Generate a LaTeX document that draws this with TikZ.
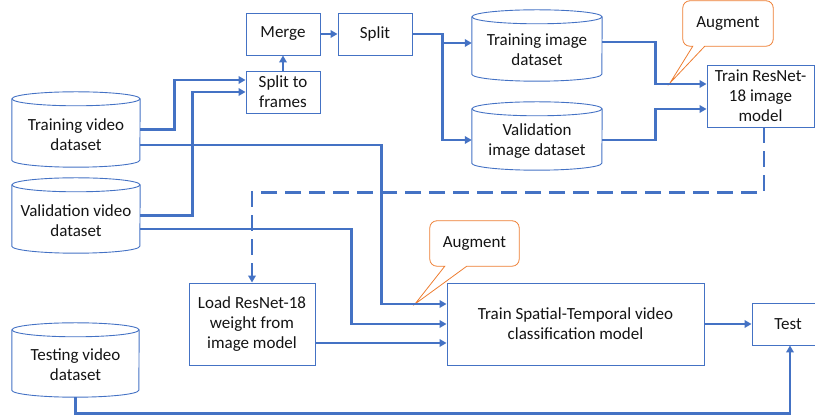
\documentclass[tikz,border=0pt]{standalone}
\usepackage{fontspec}
\setmainfont{Carlito}
\usetikzlibrary{arrows.meta,calc}

\definecolor{flowblue}{RGB}{68,114,196}
\definecolor{calloutorange}{RGB}{237,125,49}
\definecolor{inkgray}{RGB}{20,20,20}
\newcommand\diagfont{\fontsize{17}{20}\selectfont}

\tikzset{
  box/.style={draw=flowblue, line width=0.9pt, fill=white, inner sep=0pt,
              align=center, text=inkgray, font=\diagfont},
  dbarea/.style={inner sep=0pt},
  dbtext/.style={align=center, text=inkgray, font=\diagfont, inner sep=0pt},
  cylline/.style={draw=flowblue, line width=0.9pt},
  conn/.style={draw=flowblue, line width=2.8pt,
               -{Triangle[length=7pt,width=7.5pt]}},
  dconn/.style={conn, dash pattern=on 16pt off 8pt},
  callline/.style={draw=calloutorange, line width=0.8pt},
  calltext/.style={text=inkgray, font=\diagfont, inner sep=0pt},
}

% database cylinder drawn over the extent of an (invisible) area node
\newcommand\dbcyl[2]{%
  \draw[cylline] ([yshift=-7pt]#1.north west) -- ([yshift=7pt]#1.south west)
    arc[start angle=180,end angle=360,x radius=#2,y radius=7pt]
    -- ([yshift=-7pt]#1.north east);
  \draw[cylline] ([yshift=-7pt]#1.north) ellipse[x radius=#2,y radius=7pt];}

% speech-bubble outline around a node; #2,#3 = pointer base offsets, #4 = tip
\newcommand\bubble[4]{%
  \draw[callline] ($(#1.south west)+(#2,0)$) -- ($(#1.south west)+(7,0)$)
    arc[start angle=270,end angle=180,radius=7pt]
    -- ($(#1.north west)+(0,-7)$) arc[start angle=180,end angle=90,radius=7pt]
    -- ($(#1.north east)+(-7,0)$) arc[start angle=90,end angle=0,radius=7pt]
    -- ($(#1.south east)+(0,7)$) arc[start angle=0,end angle=-90,radius=7pt]
    -- ($(#1.south west)+(#3,0)$) -- #4 -- cycle;}

\begin{document}
\begin{tikzpicture}[x=1pt,y=1pt]
\useasboundingbox (0,0) rectangle (815,417);

% ---- datasets ----
\node[dbarea, minimum width=128pt, minimum height=75pt] (tvid) at (76,287.5) {};
\dbcyl{tvid}{64pt}
\node[dbtext] (tvidlabel) at ([yshift=-5pt]tvid.center) {Training video\\dataset};

\node[dbarea, minimum width=128pt, minimum height=75pt] (vvid) at (76,201.5) {};
\dbcyl{vvid}{64pt}
\node[dbtext] (vvidlabel) at ([yshift=-5pt]vvid.center) {Validation video\\dataset};

\node[dbarea, minimum width=127pt, minimum height=74pt] (tevid) at (75.5,57) {};
\dbcyl{tevid}{63.5pt}
\node[dbtext] (tevidlabel) at ([yshift=-5pt]tevid.center) {Testing video\\dataset};

\node[dbarea, minimum width=130pt, minimum height=71pt] (timg) at (537,371.5) {};
\dbcyl{timg}{65pt}
\node[dbtext] (timglabel) at ([yshift=-4pt]timg.center) {Training image\\dataset};

\node[dbarea, minimum width=130pt, minimum height=68pt] (vimg) at (537,281) {};
\dbcyl{vimg}{65pt}
\node[dbtext] (vimglabel) at ([yshift=-5pt]vimg.center) {Validation\\image dataset};

% ---- process boxes ----
\node[box, minimum width=74pt, minimum height=42pt] (merge) at (283,383) {Merge};
\node[box, minimum width=74pt, minimum height=42pt] (split) at (375,383) {Split};
\node[box, minimum width=74pt, minimum height=42pt] (frames) at (283,325) {Split to\\frames};
\node[box, minimum width=107pt, minimum height=62pt] (resnet) at (760.5,321) {Train ResNet-\\18 image\\model};
\node[box, minimum width=126pt, minimum height=82pt] (load) at (252,93) {Load ResNet-18\\weight from\\image model};
\node[box, minimum width=257pt, minimum height=82pt] (st) at (575.5,93) {Train Spatial-Temporal video\\classification model};
\node[box, minimum width=72pt, minimum height=42pt] (test) at (788,93) {Test};

% ---- callouts ----
\node[calltext, minimum width=90pt, minimum height=45pt] (aug1) at (728,393.5) {Augment};
\bubble{aug1}{10}{22}{(670,334)}
\node[calltext, minimum width=89pt, minimum height=45pt] (aug2) at (474.5,173.5) {Augment};
\bubble{aug2}{15}{37}{(415,113)}

% ---- connectors ----
\draw[conn] (tvid.east) -- ++(34,0) |- ([yshift=12pt]frames.west);
\draw[conn] (vvid.east) -- ++(52,0) |- (frames.west);
\draw[conn] ([yshift=-15.5pt]tvid.east) -| ($(st.west)+(-65,20)$) -- ([yshift=20pt]st.west);
\draw[conn] ([yshift=-13.5pt]vvid.east) -| ($(st.west)+(-95,0)$) -- (st.west);
\draw[conn] (frames.north) -- (merge.south);
\draw[conn] (merge.east) -- (split.west);
\draw[conn] (split.east) -- ++(30,0) |- ([yshift=2.5pt]timg.west);
\draw[conn] (split.east) -- ++(30,0) |- ([yshift=-4pt]vimg.west);
\draw[conn] ([yshift=3.5pt]timg.east) -- ++(53,0) |- ([yshift=12pt]resnet.west);
\draw[conn] ([yshift=-4pt]vimg.east) -- ++(53,0) |- ([yshift=-13pt]resnet.west);
\draw[dconn] ([xshift=3.5pt]resnet.south) |- ($(load.north)+(0,90)$) -- (load.north);
\draw[conn] ([yshift=-19pt]load.east) -- ([yshift=-19pt]st.west);
\draw[conn] (st.east) -- (test.west);
\draw[conn] (tevid.south) -- ++(0,-16) -| ([xshift=2pt]test.south);
\end{tikzpicture}
\end{document}
